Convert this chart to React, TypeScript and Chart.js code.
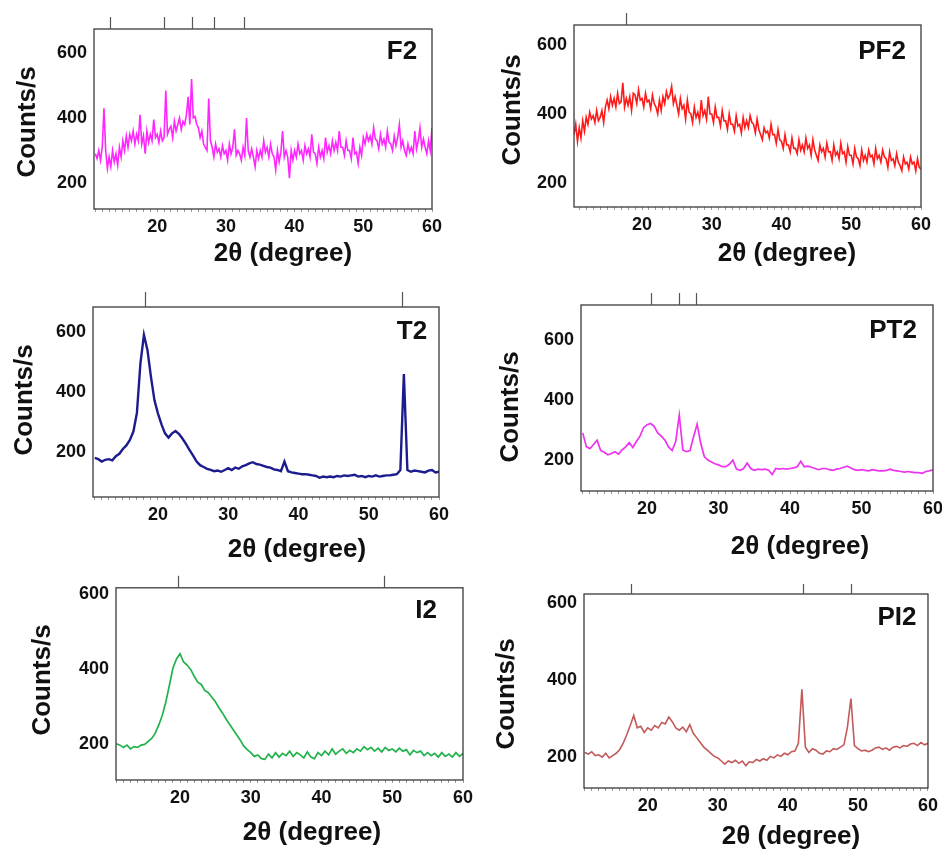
import React, { useEffect, useRef } from 'react';
import { Chart, registerables } from 'chart.js';

Chart.register(...registerables);

// 2θ sampling positions (degrees), 0.5° step
const TWO_THETA = [
  11, 11.5, 12, 12.5, 13, 13.5, 14, 14.5, 15, 15.5,
  16, 16.5, 17, 17.5, 18, 18.5, 19, 19.5, 20, 20.5,
  21, 21.5, 22, 22.5, 23, 23.5, 24, 24.5, 25, 25.5,
  26, 26.5, 27, 27.5, 28, 28.5, 29, 29.5, 30, 30.5,
  31, 31.5, 32, 32.5, 33, 33.5, 34, 34.5, 35, 35.5,
  36, 36.5, 37, 37.5, 38, 38.5, 39, 39.5, 40, 40.5,
  41, 41.5, 42, 42.5, 43, 43.5, 44, 44.5, 45, 45.5,
  46, 46.5, 47, 47.5, 48, 48.5, 49, 49.5, 50, 50.5,
  51, 51.5, 52, 52.5, 53, 53.5, 54, 54.5, 55, 55.5,
  56, 56.5, 57, 57.5, 58, 58.5, 59, 59.5, 60,
];

// 2θ sampling positions (degrees), 0.25° step
const TWO_THETA_FINE = [
  11, 11.25, 11.5, 11.75, 12, 12.25, 12.5, 12.75, 13, 13.25, 13.5, 13.75,
  14, 14.25, 14.5, 14.75, 15, 15.25, 15.5, 15.75, 16, 16.25, 16.5, 16.75,
  17, 17.25, 17.5, 17.75, 18, 18.25, 18.5, 18.75, 19, 19.25, 19.5, 19.75,
  20, 20.25, 20.5, 20.75, 21, 21.25, 21.5, 21.75, 22, 22.25, 22.5, 22.75,
  23, 23.25, 23.5, 23.75, 24, 24.25, 24.5, 24.75, 25, 25.25, 25.5, 25.75,
  26, 26.25, 26.5, 26.75, 27, 27.25, 27.5, 27.75, 28, 28.25, 28.5, 28.75,
  29, 29.25, 29.5, 29.75, 30, 30.25, 30.5, 30.75, 31, 31.25, 31.5, 31.75,
  32, 32.25, 32.5, 32.75, 33, 33.25, 33.5, 33.75, 34, 34.25, 34.5, 34.75,
  35, 35.25, 35.5, 35.75, 36, 36.25, 36.5, 36.75, 37, 37.25, 37.5, 37.75,
  38, 38.25, 38.5, 38.75, 39, 39.25, 39.5, 39.75, 40, 40.25, 40.5, 40.75,
  41, 41.25, 41.5, 41.75, 42, 42.25, 42.5, 42.75, 43, 43.25, 43.5, 43.75,
  44, 44.25, 44.5, 44.75, 45, 45.25, 45.5, 45.75, 46, 46.25, 46.5, 46.75,
  47, 47.25, 47.5, 47.75, 48, 48.25, 48.5, 48.75, 49, 49.25, 49.5, 49.75,
  50, 50.25, 50.5, 50.75, 51, 51.25, 51.5, 51.75, 52, 52.25, 52.5, 52.75,
  53, 53.25, 53.5, 53.75, 54, 54.25, 54.5, 54.75, 55, 55.25, 55.5, 55.75,
  56, 56.25, 56.5, 56.75, 57, 57.25, 57.5, 57.75, 58, 58.25, 58.5, 58.75,
  59, 59.25, 59.5, 59.75, 60,
];

// PF2 scan starts a little lower
const TWO_THETA_PF2 = [10.25, 10.5, 10.75, ...TWO_THETA_FINE];

const F2_COUNTS = [
  290, 275, 300, 270, 310, 430, 300, 245, 280, 250, 300, 265,
  290, 255, 310, 280, 330, 300, 345, 310, 350, 330, 360, 320,
  350, 330, 410, 320, 345, 290, 360, 325, 350, 330, 395, 340,
  350, 325, 360, 330, 340, 485, 350, 365, 375, 340, 390, 360,
  380, 400, 365, 390, 380, 410, 465, 380, 520, 400, 405, 380,
  370, 340, 360, 320, 310, 300, 460, 330, 310, 280, 320, 295,
  305, 280, 315, 290, 300, 270, 320, 290, 310, 365, 285, 300,
  290, 270, 310, 285, 400, 300, 280, 305, 280, 250, 300, 275,
  300, 280, 330, 295, 310, 280, 320, 290, 280, 240, 300, 265,
  295, 360, 280, 300, 280, 215, 300, 270, 300, 280, 320, 290,
  300, 270, 315, 290, 305, 280, 350, 295, 290, 260, 310, 280,
  300, 275, 340, 295, 315, 290, 330, 300, 325, 300, 360, 310,
  310, 285, 330, 300, 300, 275, 340, 290, 295, 260, 310, 285,
  340, 320, 350, 330, 345, 320, 370, 335, 330, 305, 350, 320,
  335, 310, 360, 325, 320, 300, 345, 315, 340, 380, 310, 330,
  300, 285, 320, 295, 310, 290, 360, 305, 330, 370, 310, 335,
  310, 290, 330, 300, 370,
];

const PF2_COUNTS = [
  340, 370, 320,
  360, 330, 380, 350, 390, 370, 405, 385, 395, 375, 410, 380,
  390, 410, 375, 420, 440, 415, 450, 425, 445, 420, 460, 430,
  435, 490, 420, 445, 425, 450, 410, 460, 455, 430, 470, 440,
  445, 420, 460, 435, 440, 415, 455, 430, 420, 400, 440, 410,
  450, 430, 465, 445, 455, 480, 430, 450, 425, 400, 445, 415,
  425, 385, 440, 405, 400, 375, 420, 390, 405, 380, 440, 395,
  410, 385, 450, 400, 400, 375, 420, 390, 390, 365, 410, 380,
  380, 355, 400, 370, 370, 350, 395, 365, 370, 345, 390, 360,
  380, 360, 395, 375, 370, 345, 385, 355, 340, 325, 360, 345,
  350, 330, 370, 340, 340, 315, 355, 325, 320, 300, 340, 310,
  310, 290, 330, 300, 300, 285, 325, 295, 310, 290, 330, 300,
  310, 280, 325, 295, 280, 265, 310, 290, 300, 275, 315, 290,
  290, 265, 310, 280, 290, 270, 315, 285, 290, 260, 305, 280,
  280, 255, 300, 275, 270, 250, 295, 265, 280, 260, 295, 275,
  280, 255, 300, 270, 280, 260, 295, 275, 270, 245, 290, 265,
  270, 250, 285, 260, 250, 235, 275, 255, 260, 240, 275, 255,
  260, 235, 270, 245, 240,
];

const T2_COUNTS = [
  180, 176, 168, 174, 176, 172, 186, 194, 210, 222,
  240, 268, 330, 495, 590, 540, 450, 372, 328, 292,
  262, 248, 262, 270, 260, 244, 226, 206, 188, 168,
  156, 150, 144, 140, 136, 138, 134, 140, 146, 140,
  148, 144, 152, 156, 162, 166, 160, 158, 154, 150,
  148, 142, 140, 136, 168, 136, 132, 130, 128, 126,
  126, 124, 122, 120, 114, 118, 116, 118, 116, 120,
  118, 122, 120, 122, 124, 118, 120, 116, 120, 118,
  122, 118, 120, 122, 122, 124, 126, 140, 460, 140,
  134, 138, 136, 134, 132, 138, 140, 132, 134,
];

const PT2_COUNTS = [
  290, 245, 238, 252, 266, 232, 226, 218, 222, 228,
  220, 234, 244, 258, 242, 262, 280, 308, 318, 322,
  312, 290, 280, 266, 244, 232, 262, 350, 234, 228,
  232, 278, 320, 256, 212, 200, 194, 188, 184, 178,
  178, 186, 200, 170, 166, 172, 190, 172, 166, 170,
  168, 170, 166, 152, 172, 170, 172, 170, 172, 174,
  178, 196, 178, 180, 176, 172, 168, 172, 172, 168,
  166, 170, 172, 176, 180, 174, 168, 166, 168, 166,
  164, 168, 166, 164, 164, 166, 170, 166, 164, 162,
  160, 162, 160, 158, 158, 156, 162, 164, 168,
];

const I2_COUNTS = [
  200, 196, 190, 196, 186, 192, 190, 196, 198, 206,
  214, 228, 250, 276, 312, 356, 402, 426, 440, 418,
  410, 398, 380, 364, 358, 342, 336, 324, 312, 296,
  282, 266, 252, 238, 224, 210, 194, 184, 176, 166,
  170, 160, 158, 172, 162, 176, 164, 174, 168, 180,
  166, 176, 170, 162, 178, 164, 160, 176, 168, 180,
  170, 186, 172, 180, 186, 174, 182, 176, 186, 180,
  192, 184, 190, 180, 188, 178, 190, 182, 186, 178,
  188, 180, 184, 170, 182, 176, 180, 168, 176, 168,
  174, 164, 176, 166, 172, 164, 176, 166, 174,
];

const PI2_COUNTS = [
  212, 208, 214, 204, 206, 200, 210, 198, 204, 210,
  220, 236, 258, 282, 308, 276, 280, 264, 276, 270,
  282, 276, 290, 286, 304, 292, 276, 270, 278, 266,
  284, 262, 250, 238, 226, 218, 210, 202, 198, 190,
  182, 190, 186, 192, 184, 190, 178, 188, 186, 194,
  190, 196, 192, 202, 198, 206, 202, 210, 206, 214,
  216, 236, 376, 226, 212, 222, 218, 210, 208, 216,
  214, 222, 220, 226, 232, 278, 352, 230, 222, 216,
  218, 214, 218, 224, 226, 220, 224, 218, 226, 228,
  224, 230, 228, 234, 236, 230, 238, 232, 236,
];

// reference-peak markers above each panel (degrees)
const F2_MARKERS = [13.1, 21.0, 25.1, 28.2, 32.7];
const PF2_MARKERS = [17.7];
const T2_MARKERS = [18.1, 54.7];
const PT2_MARKERS = [20.6, 24.4, 26.9];
const I2_MARKERS = [19.7, 48.9];
const PI2_MARKERS = [17.6, 42.2, 49.0];

const X_TICK_LABELS = [20, 30, 40, 50, 60];
const Y_TICK_LABELS = [200, 400, 600];

const X_TITLE = '2θ (degree)';
const Y_TITLE = 'Counts/s';

const FONT = '"Liberation Sans", Arial, Helvetica, sans-serif';

type PanelDef = {
  name: string;
  angles: number[];
  counts: number[];
  markers: number[];
  color: string;
  lw: number;
  xMin: number;
  yMin: number;
  yMax: number;
  box: [number, number, number, number];
  plot: [number, number, number, number];
  xTitle: [number, number];
  yTitle: [number, number];
  label: [number, number];
  markLen: number;
};

const PANELS: PanelDef[] = [
  {
    name: 'F2', angles: TWO_THETA_FINE, counts: F2_COUNTS, markers: F2_MARKERS,
    color: 'rgba(255,0,255,0.85)', lw: 1.6,
    xMin: 10.8, yMin: 120, yMax: 674,
    box: [0, 0, 480, 280], plot: [94, 29, 432, 209],
    xTitle: [283, 254], yTitle: [28, 122], label: [402, 52], markLen: 12,
  },
  {
    name: 'PF2', angles: TWO_THETA_PF2, counts: PF2_COUNTS, markers: PF2_MARKERS,
    color: 'rgba(255,0,0,0.9)', lw: 1.6,
    xMin: 10.25, yMin: 130, yMax: 658,
    box: [470, 0, 472, 280], plot: [574, 25, 921, 207],
    xTitle: [787, 254], yTitle: [513, 110], label: [882, 52], markLen: 12,
  },
  {
    name: 'T2', angles: TWO_THETA, counts: T2_COUNTS, markers: T2_MARKERS,
    color: '#1c1c8e', lw: 2.4,
    xMin: 10.75, yMin: 50, yMax: 683,
    box: [0, 280, 480, 290], plot: [93, 307, 439, 497],
    xTitle: [297, 550], yTitle: [25, 400], label: [412, 332], markLen: 15,
  },
  {
    name: 'PT2', angles: TWO_THETA, counts: PT2_COUNTS, markers: PT2_MARKERS,
    color: '#ee33ee', lw: 1.7,
    xMin: 10.75, yMin: 97, yMax: 717,
    box: [470, 280, 490, 290], plot: [581, 305, 933, 491],
    xTitle: [800, 547], yTitle: [511, 407], label: [893, 331], markLen: 12,
  },
  {
    name: 'I2', angles: TWO_THETA, counts: I2_COUNTS, markers: I2_MARKERS,
    color: '#22b24c', lw: 1.7,
    xMin: 10.95, yMin: 103, yMax: 616,
    box: [0, 570, 480, 282], plot: [116, 585, 463, 780],
    xTitle: [312, 833], yTitle: [43, 680], label: [426, 611], markLen: 12,
  },
  {
    name: 'PI2', angles: TWO_THETA, counts: PI2_COUNTS, markers: PI2_MARKERS,
    color: '#c25a5a', lw: 1.6,
    xMin: 10.9, yMin: 120, yMax: 623,
    box: [470, 570, 472, 282], plot: [584, 594, 929, 788],
    xTitle: [791, 837], yTitle: [507, 694], label: [897, 618], markLen: 10,
  },
];

function Panel({ p }: { p: PanelDef }) {
  const ref = useRef<HTMLCanvasElement>(null);
  useEffect(() => {
    if (!ref.current) return;
    const [bx, by, bw, bh] = p.box;
    const [pl, pt, pr, pb] = p.plot;
    const decor = {
      id: 'decor' + p.name,
      afterDraw(chart: any) {
        const ctx = chart.ctx;
        const a = chart.chartArea;
        const xs = chart.scales.x;
        ctx.save();
        ctx.strokeStyle = '#3a3a3a';
        ctx.lineWidth = 1.3;
        ctx.strokeRect(a.left, a.top, a.right - a.left, a.bottom - a.top);
        ctx.strokeStyle = '#555';
        ctx.lineWidth = 1.2;
        p.markers.forEach((m) => {
          const x = Math.round(xs.getPixelForValue(m)) + 0.5;
          ctx.beginPath();
          ctx.moveTo(x, a.top);
          ctx.lineTo(x, a.top - p.markLen);
          ctx.stroke();
        });
        ctx.fillStyle = '#111';
        ctx.textAlign = 'center';
        ctx.textBaseline = 'middle';
        ctx.font = `bold 26px ${FONT}`;
        ctx.fillText(X_TITLE, p.xTitle[0] - bx, p.xTitle[1] - by);
        ctx.fillText(p.name, p.label[0] - bx, p.label[1] - by);
        ctx.translate(p.yTitle[0] - bx, p.yTitle[1] - by);
        ctx.rotate(-Math.PI / 2);
        ctx.fillText(Y_TITLE, 0, 0);
        ctx.restore();
      },
    };
    const chart = new Chart(ref.current, {
      type: 'line',
      data: {
        datasets: [
          {
            data: p.angles.map((x, i) => ({ x, y: p.counts[i] })),
            borderColor: p.color,
            borderWidth: p.lw,
            pointRadius: 0,
            tension: 0,
            fill: false,
          },
        ],
      },
      options: {
        responsive: false,
        animation: false,
        devicePixelRatio: 1,
        layout: { padding: { left: 0, top: pt - by, right: bx + bw - pr, bottom: 0 } },
        plugins: { legend: { display: false }, tooltip: { enabled: false } },
        scales: {
          x: {
            type: 'linear',
            min: p.xMin,
            max: 60,
            afterFit: (s: any) => { s.height = by + bh - pb; },
            ticks: {
              stepSize: 1,
              autoSkip: false,
              maxRotation: 0,
              includeBounds: false,
              padding: 4,
              color: '#111',
              font: { family: FONT, size: 18, weight: 'bold' },
              callback: (v: any) => (X_TICK_LABELS.includes(Number(v)) ? String(v) : ''),
            },
            grid: { display: true, drawOnChartArea: false, drawTicks: true, tickLength: 3, color: '#9a9a9a' },
            border: { display: false },
          },
          y: {
            type: 'linear',
            min: p.yMin,
            max: p.yMax,
            afterFit: (s: any) => { s.width = pl - bx; },
            afterBuildTicks: (s: any) => {
              s.ticks = Y_TICK_LABELS.map((v) => ({ value: v }));
            },
            ticks: {
              autoSkip: false,
              padding: 7,
              color: '#111',
              font: { family: FONT, size: 18, weight: 'bold' },
              callback: (v: any) => String(v),
            },
            grid: { display: false, drawTicks: false },
            border: { display: false },
          },
        },
      },
      plugins: [decor],
    } as any);
    return () => chart.destroy();
  }, [p]);
  const [bx, by, bw, bh] = p.box;
  return (
    <canvas
      ref={ref}
      width={bw}
      height={bh}
      style={{ position: 'absolute', left: bx, top: by, width: bw, height: bh }}
    />
  );
}

export default function App() {
  return (
    <div
      style={{
        position: 'absolute',
        left: 0,
        top: 0,
        width: 942,
        height: 852,
        overflow: 'hidden',
        background: '#fff',
      }}
    >
      {PANELS.map((p) => (
        <Panel key={p.name} p={p} />
      ))}
    </div>
  );
}
